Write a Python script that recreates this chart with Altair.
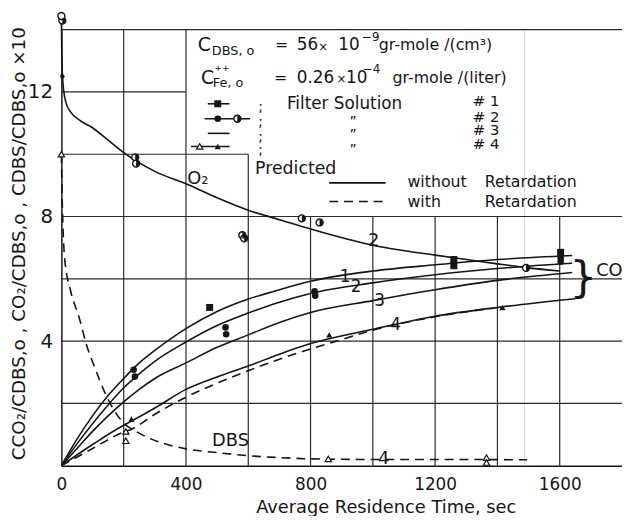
import altair as alt
import pandas as pd

# ---------------- data ----------------
# O2 (solid) predicted curve
o2_t = [0, 1, 3, 8, 15, 30, 57, 100, 150, 200, 300, 400, 500, 600, 700, 800, 1000, 1200, 1300, 1400, 1500, 1600]
o2_v = [14.4, 13.5, 12.6, 12.0, 11.65, 11.35, 11.1, 10.85, 10.45, 10.05, 9.45, 9.05, 8.6, 8.2, 7.9, 7.6, 7.08, 6.76, 6.62, 6.48, 6.35, 6.25]

# CO2 predicted curves (solid, without retardation)
co2_t = [0, 50, 100, 150, 200, 250, 300, 400, 500, 600, 700, 800, 1000, 1200, 1400, 1640]
co2_1 = [0, 0.85, 1.6, 2.25, 2.8, 3.3, 3.7, 4.4, 4.95, 5.35, 5.65, 5.92, 6.25, 6.45, 6.62, 6.75]
co2_2 = [0, 0.7, 1.35, 1.95, 2.5, 2.95, 3.35, 3.97, 4.5, 4.9, 5.25, 5.53, 5.87, 6.13, 6.33, 6.5]
co2_3 = [0, 0.55, 1.1, 1.6, 2.05, 2.45, 2.8, 3.3, 3.8, 4.2, 4.6, 4.92, 5.3, 5.65, 5.95, 6.2]
co2_4_t = [0, 100, 200, 225, 300, 400, 500, 600, 700, 800, 1000, 1200, 1400, 1650]
co2_4 = [0, 0.68, 1.3, 1.43, 1.85, 2.45, 2.85, 3.2, 3.58, 3.92, 4.38, 4.8, 5.08, 5.36]
# CO2 #4 with retardation (dashed)
co2_4r_t = [0, 100, 200, 225, 300, 400, 500, 600, 700, 800, 900, 1000, 1200, 1420]
co2_4r = [0, 0.55, 1.08, 1.17, 1.65, 2.2, 2.65, 3.05, 3.42, 3.75, 4.05, 4.35, 4.78, 5.1]
# DBS with retardation (dashed)
dbs_t = [0, 2, 5, 10, 30, 57, 80, 110, 135, 162, 200, 240, 280, 340, 400, 500, 600, 700, 800, 1000, 1200, 1495]
dbs_v = [10, 8.8, 7.7, 6.7, 5.6, 4.76, 3.9, 3.08, 2.45, 1.9, 1.37, 1.1, 0.89, 0.68, 0.54, 0.42, 0.32, 0.26, 0.22, 0.2, 0.2, 0.19]

# measured points
sq_t = [476, 1260, 1260, 1603]            # filter solution #1 (filled squares)
sq_v = [5.08, 6.62, 6.42, 6.85]
fc_t = [232, 236, 527, 529, 813, 815, 1603, 1603]   # #2 filled circles
fc_v = [3.08, 2.86, 4.44, 4.22, 5.6, 5.46, 6.68, 6.55]
hc_t = [3, 237, 240, 581, 587, 772, 829, 1492]      # #2 half-filled circles (O2)
hc_v = [14.29, 9.9, 9.7, 7.4, 7.3, 7.94, 7.81, 6.35]
oc_t = [0]                                # open circle (O2 at t=0)
oc_v = [14.44]
ft_t = [225, 860, 1416]                   # #4 filled triangles
ft_v = [1.5, 4.2, 5.08]
ot_t = [0, 207, 207, 857, 1365, 1365]     # #4 open triangles (DBS)
ot_v = [10, 1.1, 0.8, 0.22, 0.26, 0.1]
dot_t = [3]
dot_v = [12.5]

x_ticks = [0, 400, 800, 1200, 1600]
y_ticks = [4, 8, 12]

# graph-paper grid (partly blanked by the legend area)
vgrid_x = [200, 400, 600, 800, 1000, 1200, 1400, 1600]
vgrid_top = [14, 14, 10, 8, 8, 8, 8, 8]
hgrid_y = [2, 4, 6, 8, 10, 12, 14]
hgrid_end = [1800, 1800, 1800, 1800, 600, 400, 1800]

# ---------------- helpers ----------------
INK = "#151515"
FONT = "DejaVu Sans"
xscale = alt.Scale(domain=[0, 1800], nice=False, zero=False)
yscale = alt.Scale(domain=[0, 14], nice=False, zero=False)
xaxis = alt.Axis(values=x_ticks, format="d", grid=False, ticks=False, labelFontSize=17, labelPadding=11,
                 labelColor=INK, labelFont=FONT, domainColor=INK, domainWidth=1.5,
                 title="Average Residence Time, sec", titleFontSize=18, titleFont=FONT,
                 titleFontWeight="normal", titleColor=INK, titleX=328, titleY=42,
                 titleBaseline="middle", titleAlign="center", labelFlush=False)
yaxis = alt.Axis(values=y_ticks, format="d", grid=False, ticks=False, labelFontSize=20, labelPadding=9,
                 labelColor=INK, labelFont=FONT, domainColor=INK, domainWidth=1.5,
                 title="CCO₂/CDBS,o , CO₂/CDBS,o , CDBS/CDBS,o ×10", titleFontSize=18.5,
                 titleFont=FONT, titleFontWeight="normal", titleColor=INK,
                 titleX=-43, titleY=216, titleAngle=270, titleBaseline="middle",
                 titleAlign="center")
X = alt.X("x:Q", scale=xscale, axis=xaxis)
Y = alt.Y("y:Q", scale=yscale, axis=yaxis)


def df(xs, ys, **extra):
    d = pd.DataFrame({"x": xs, "y": ys})
    for k, v in extra.items():
        d[k] = v
    return d


# grid
vg = pd.DataFrame({"x": vgrid_x, "y": [0] * len(vgrid_x), "y2": vgrid_top})
hg = pd.DataFrame({"y": hgrid_y, "x": [0] * len(hgrid_y), "x2": hgrid_end})
grid_v = alt.Chart(vg).mark_rule(color="#2a2a2a", strokeWidth=1.2).encode(x=X, y=Y, y2="y2:Q")
grid_h = alt.Chart(hg).mark_rule(color="#2a2a2a", strokeWidth=1.2).encode(y=Y, x=X, x2="x2:Q")
fold = alt.Chart(pd.DataFrame({"x": [1487], "y": [0], "y2": [14]})).mark_rule(
    color="#dcdcdc", strokeWidth=1).encode(x=X, y=Y, y2="y2:Q")

# curves
solid = pd.concat([
    df(o2_t, o2_v, c="O2"),
    df(co2_t, co2_1, c="1"),
    df(co2_t, co2_2, c="2"),
    df(co2_t, co2_3, c="3"),
    df(co2_4_t, co2_4, c="4"),
])
dashed = pd.concat([
    df(co2_4r_t, co2_4r, c="4r"),
    df(dbs_t, dbs_v, c="dbs"),
])
solid_lines = alt.Chart(solid).mark_line(color=INK, strokeWidth=1.6, interpolate="monotone").encode(
    x=X, y=Y, detail="c:N")
dashed_lines = alt.Chart(dashed).mark_line(color=INK, strokeWidth=1.6, strokeDash=[9, 6],
                                           interpolate="monotone").encode(x=X, y=Y, detail="c:N")

# legend sample lines (positions in data units)
leg_lines = pd.DataFrame({
    "x": [470, 460, 470, 416, 860],
    "x2": [540, 606, 540, 540, 1041],
    "y": [11.62, 11.14, 10.67, 10.25, 9.08],
})
leg_solid = alt.Chart(leg_lines).mark_rule(color=INK, strokeWidth=1.6).encode(x=X, x2="x2:Q", y=Y)
leg_dash = alt.Chart(pd.DataFrame({"x": [860], "x2": [1041], "y": [8.48]})).mark_rule(
    color=INK, strokeWidth=1.6, strokeDash=[9, 6]).encode(x=X, x2="x2:Q", y=Y)

# markers (data + legend symbols)
sq = df(sq_t + [502], sq_v + [11.62])
fc = df(fc_t + [502], fc_v + [11.14])
hc = df(hc_t + [565], hc_v + [11.14])
oc = df(oc_t, oc_v)
ft = df(ft_t + [502], ft_v + [10.25])
ot = df(ot_t + [444], ot_v + [10.25])
dt = df(dot_t, dot_v)

m_sq = alt.Chart(sq).mark_point(shape="square", filled=True, color=INK, size=50, opacity=1).encode(x=X, y=Y)
m_fc = alt.Chart(fc).mark_point(shape="circle", filled=True, color=INK, size=45, opacity=1).encode(x=X, y=Y)
m_hc_o = alt.Chart(hc).mark_point(shape="circle", filled=True, fill="white", stroke=INK,
                                  strokeWidth=1.4, size=50, opacity=1).encode(x=X, y=Y)
m_hc_f = alt.Chart(hc).mark_point(shape="M 0 -1 A 1 1 0 0 1 0 1 Z", filled=True, color=INK,
                                  size=50, opacity=1).encode(x=X, y=Y)
m_oc = alt.Chart(oc).mark_point(shape="circle", filled=True, fill="white", stroke=INK,
                                strokeWidth=1.4, size=50, opacity=1).encode(x=X, y=Y)
m_ft = alt.Chart(ft).mark_point(shape="triangle-up", filled=True, color=INK, size=40, opacity=1).encode(x=X, y=Y)
m_ot = alt.Chart(ot).mark_point(shape="triangle-up", filled=True, fill="white", stroke=INK,
                                strokeWidth=1.2, size=40, opacity=1).encode(x=X, y=Y)
m_dt = alt.Chart(dt).mark_point(shape="circle", filled=True, color=INK, size=20, opacity=1).encode(x=X, y=Y)

# annotation texts (left aligned), positions in data units
tl_text = ["C", "DBS, o", "=", "56", "×", "10", "−9", "gr-mole /(cm³)",
           "C", "Fe, o", "++", "=", "0.26", "×", "10", "−4", "gr-mole /(liter)",
           ";", "Filter Solution", "# 1",
           ";", "”", "# 2",
           ";", "”", "# 3",
           ";", "”", "# 4",
           "Predicted", "without", "Retardation", "with", "Retardation",
           "CO₂"]
tl_x = [438, 483, 686, 756, 825, 889, 965, 1019,
        448, 486, 492, 683, 756, 883, 914, 968, 1063,
        632, 724, 1321,
        632, 925, 1321,
        632, 925, 1321,
        632, 925, 1321,
        622, 1111, 1359, 1111, 1359,
        1717]
tl_y = [13.49, 13.3, 13.49, 13.49, 13.45, 13.49, 13.76, 13.49,
        12.44, 12.27, 12.78, 12.44, 12.44, 12.4, 12.44, 12.72, 12.44,
        11.52, 11.62, 11.7,
        11.02, 11.02, 11.2,
        10.55, 10.6, 10.77,
        10.15, 10.15, 10.32,
        9.52, 9.11, 9.11, 8.48, 8.48,
        6.25]
tl_fs = [19, 13, 16, 17, 12, 17, 12, 16,
         19, 13, 9, 16, 17, 12, 17, 12, 16,
         14, 17, 15,
         14, 14, 15,
         14, 14, 15,
         14, 14, 15,
         17.5, 16, 16, 16, 16,
         18]
txt_left = alt.Chart(pd.DataFrame({"x": tl_x, "y": tl_y, "text": tl_text, "fs": tl_fs})).mark_text(
    align="left", baseline="middle", font=FONT, color=INK).encode(
    x=X, y=Y, text="text:N", size=alt.Size("fs:Q", scale=None, legend=None))

# curve labels (centered)
tc_text = ["O₂", "2", "1", "2", "3", "4", "DBS", "4", "}"]
tc_x = [438, 1003, 911, 946, 1022, 1073, 543, 1035, 1676]
tc_y = [9.2, 7.2, 6.06, 5.75, 5.3, 4.5, 0.79, 0.22, 6.0]
tc_fs = [18, 18, 17, 17, 17, 17, 18, 18, 44]
txt_center = alt.Chart(pd.DataFrame({"x": tc_x, "y": tc_y, "text": tc_text, "fs": tc_fs})).mark_text(
    align="center", baseline="middle", font=FONT, color=INK).encode(
    x=X, y=Y, text="text:N", size=alt.Size("fs:Q", scale=None, legend=None))

chart = alt.layer(
    fold, grid_v, grid_h, solid_lines, dashed_lines, leg_solid, leg_dash,
    m_sq, m_fc, m_hc_o, m_hc_f, m_oc, m_ft, m_ot, m_dt, txt_left, txt_center
).properties(
    width=567, height=441,
    autosize=alt.AutoSizeParams(type="none"),
    padding={"left": 54, "top": 19, "right": 0, "bottom": 48},
    background="white",
).configure_view(stroke=None)

chart.save("out.html", embed_options={"renderer": "svg", "actions": False})
